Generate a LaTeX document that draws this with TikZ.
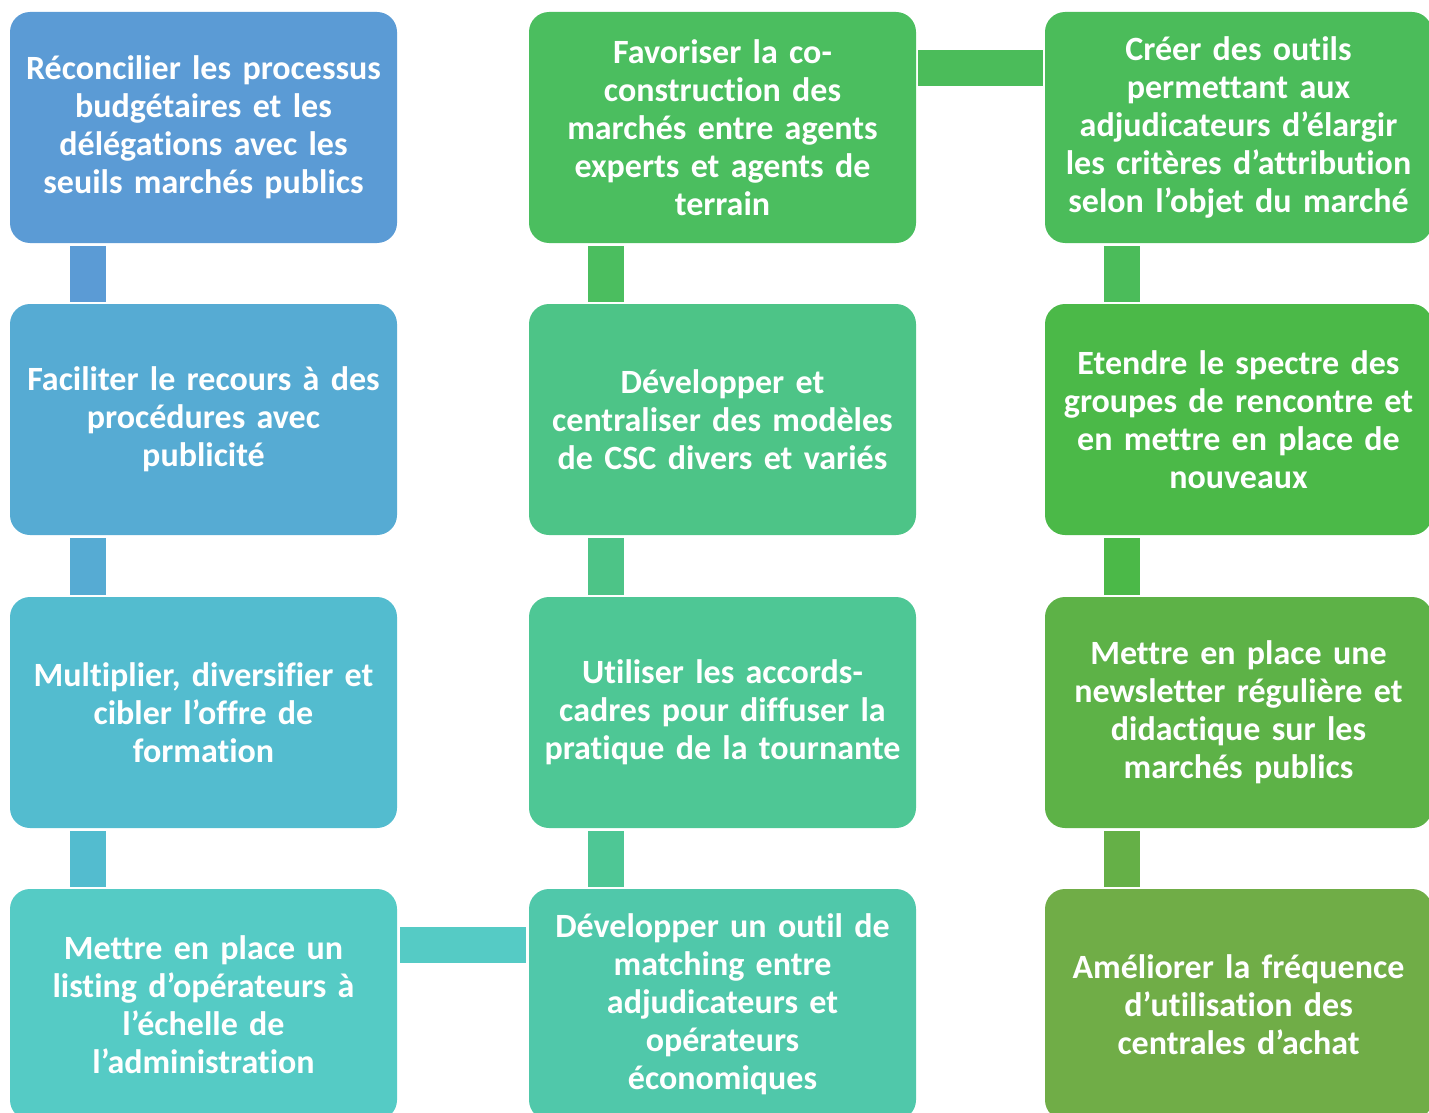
\documentclass[tikz,border=0pt]{standalone}
\usepackage{fontspec}
\setmainfont{Carlito}[Ligatures=NoCommon,WordSpace=0.75]
\usepackage{tikz}

\definecolor{bleuA}{HTML}{5B9BD5}
\definecolor{bleuB}{HTML}{56ABD3}
\definecolor{bleuC}{HTML}{53BCCF}
\definecolor{bleuD}{HTML}{55CBC5}
\definecolor{vertA}{HTML}{4BBE5F}
\definecolor{vertB}{HTML}{4DC487}
\definecolor{vertC}{HTML}{4EC795}
\definecolor{vertD}{HTML}{50C8AA}
\definecolor{herbeA}{HTML}{4BBC5A}
\definecolor{herbeB}{HTML}{4BB948}
\definecolor{herbeC}{HTML}{5DB247}
\definecolor{herbeD}{HTML}{70AD47}

\begin{document}
\begin{tikzpicture}[x=1pt,y=-1pt]
	 \tikzstyle{action}=[rectangle,rounded corners=20pt,minimum width=387pt,minimum height=231pt,text width=385pt,align=center,text=white,font=\fontsize{34}{38}\selectfont\bfseries,inner sep=0pt]
	 \tikzstyle{bar}=[line width=36pt,line cap=butt]

	 \useasboundingbox (0,0) rectangle (1429,1113);
	 \clip (0,0) rectangle (1429,1113);

	 % colonne 1
	 \node[action,fill=bleuA] (a1) at (203.5,127.5) {Réconcilier les processus\\budgétaires et les\\délégations avec les\\seuils marchés publics};
	 \node[action,fill=bleuB] (a2) at (203.5,419.5) {Faciliter le recours à des\\procédures avec\\publicité};
	 \node[action,fill=bleuC] (a3) at (203.5,712.5) {Multiplier, diversifier et\\cibler l’offre de\\formation};
	 \node[action,fill=bleuD] (a4) at (203.5,1004.5) {Mettre en place un\\listing d’opérateurs à\\l’échelle de\\l’administration};

	 % colonne 2
	 \node[action,fill=vertA] (b1) at (722.5,127.5) {Favoriser la co-\\construction des\\marchés entre agents\\experts et agents de\\terrain};
	 \node[action,fill=vertB] (b2) at (722.5,419.5) {Développer et\\centraliser des modèles\\de CSC divers et variés};
	 \node[action,fill=vertC] (b3) at (722.5,712.5) {Utiliser les accords-\\cadres pour diffuser la\\pratique de la tournante};
	 \node[action,fill=vertD] (b4) at (722.5,1004.5) {Développer un outil de\\matching entre\\adjudicateurs et\\opérateurs\\économiques};

	 % colonne 3
	 \node[action,fill=herbeA] (c1) at (1238.5,127.5) {Créer des outils\\permettant aux\\adjudicateurs d’élargir\\les critères d’attribution\\selon l’objet du marché};
	 \node[action,fill=herbeB] (c2) at (1238.5,419.5) {Etendre le spectre des\\groupes de rencontre et\\en mettre en place de\\nouveaux};
	 \node[action,fill=herbeC] (c3) at (1238.5,712.5) {Mettre en place une\\newsletter régulière et\\didactique sur les\\marchés publics};
	 \node[action,fill=herbeD] (c4) at (1238.5,1004.5) {Améliorer la fréquence\\d’utilisation des\\centrales d’achat};

	 % liaisons verticales
	 \draw[bar,bleuA] ([xshift=78pt,yshift=-3pt]a1.south west) -- ([xshift=78pt,yshift=2pt]a2.north west);
	 \draw[bar,bleuB] ([xshift=78pt,yshift=-3pt]a2.south west) -- ([xshift=78pt,yshift=2pt]a3.north west);
	 \draw[bar,bleuC] ([xshift=78pt,yshift=-3pt]a3.south west) -- ([xshift=78pt,yshift=2pt]a4.north west);
	 \draw[bar,vertA] ([xshift=77pt,yshift=-3pt]b1.south west) -- ([xshift=77pt,yshift=2pt]b2.north west);
	 \draw[bar,vertB] ([xshift=77pt,yshift=-3pt]b2.south west) -- ([xshift=77pt,yshift=2pt]b3.north west);
	 \draw[bar,vertC] ([xshift=77pt,yshift=-3pt]b3.south west) -- ([xshift=77pt,yshift=2pt]b4.north west);
	 \draw[bar,herbeA] ([xshift=77pt,yshift=-3pt]c1.south west) -- ([xshift=77pt,yshift=2pt]c2.north west);
	 \draw[bar,herbeB] ([xshift=77pt,yshift=-3pt]c2.south west) -- ([xshift=77pt,yshift=2pt]c3.north west);
	 \draw[bar,herbeC!60!herbeD] ([xshift=77pt,yshift=-3pt]c3.south west) -- ([xshift=77pt,yshift=2pt]c4.north west);

	 % liaisons horizontales
	 \draw[bar,herbeA] ([xshift=2pt,yshift=-56pt]b1.north east) -- ([xshift=-2pt,yshift=-56pt]c1.north west);
	 \draw[bar,bleuD] ([xshift=3pt,yshift=-56pt]a4.north east) -- ([xshift=-3pt,yshift=-56pt]b4.north west);
\end{tikzpicture}
\end{document}
